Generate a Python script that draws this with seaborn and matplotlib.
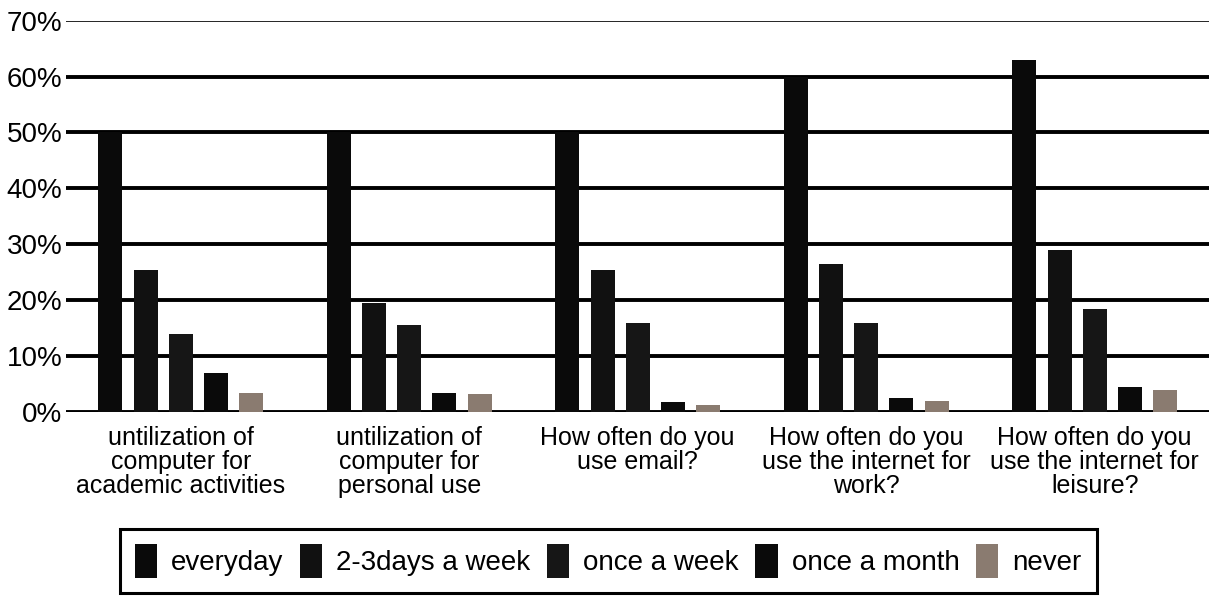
import pandas as pd
import matplotlib.pyplot as plt
import seaborn as sns

# values (percent)
questions = [
    "untilization of\ncomputer for\nacademic activities",
    "untilization of\ncomputer for\npersonal use",
    "How often do you\nuse email?",
    "How often do you\nuse the internet for\nwork?",
    "How often do you\nuse the internet for\nleisure?",
]
frequencies = ["everyday", "2-3days a week", "once a week", "once a month", "never"]
everyday = [50, 50, 50, 60, 63]
days_2_3 = [25.5, 19.5, 25.5, 26.5, 29]
once_week = [14, 15.5, 16, 16, 18.5]
once_month = [7, 3.5, 1.8, 2.5, 4.5]
never = [3.5, 3.3, 1.2, 2, 4]
yticks = [0, 10, 20, 30, 40, 50, 60, 70]

series = [everyday, days_2_3, once_week, once_month, never]
rows = []
for freq, vals in zip(frequencies, series):
    for q, v in zip(questions, vals):
        rows.append({"question": q, "frequency": freq, "pct": v})
df = pd.DataFrame(rows)

sns.set_theme(style="white")
plt.rcParams['font.family'] = ['Liberation Sans', 'DejaVu Sans']
plt.rcParams['text.color'] = 'black'
plt.rcParams['xtick.color'] = 'black'
plt.rcParams['ytick.color'] = 'black'

fig = plt.figure(figsize=(12.09, 6.07), dpi=100)
ax = fig.add_axes([0.055, 0.321, 0.945, 0.645])

palette = {"everyday": "#0a0a0a", "2-3days a week": "#111111", "once a week": "#161616",
           "once a month": "#0a0a0a", "never": "#8a7b70"}
sns.barplot(data=df, x="question", y="pct", hue="frequency", hue_order=frequencies,
            palette=palette, width=0.77, saturation=1, linewidth=0, ax=ax, zorder=3)

# narrow the bars so there are gaps between them
for p in ax.patches:
    w = p.get_width()
    if w > 0:
        p.set_x(p.get_x() + w * 0.16)
        p.set_width(w * 0.68)

ax.set_ylim(0, 70)
ax.set_xlim(-0.5, 4.5)
ax.set_yticks(yticks)
ax.set_yticklabels([f"{t}%" for t in yticks], fontsize=20)
for t in yticks:
    ax.axhline(t, color="black", lw=2.8 if t < 70 else 1.2, zorder=1)
for s in ax.spines.values():
    s.set_visible(False)
ax.tick_params(axis="y", length=0, pad=3)
ax.tick_params(axis="x", length=0, pad=10)
plt.setp(ax.get_xticklabels(), fontsize=18, ha="center", linespacing=1.0)
ax.set_xlabel("")
ax.set_ylabel("")

handles, labels = ax.get_legend_handles_labels()
ax.get_legend().remove()
leg = fig.legend(handles, labels, loc="lower center", bbox_to_anchor=(0.503, 0.0), ncol=5,
                 fontsize=20, frameon=True, fancybox=False, framealpha=1,
                 handlelength=0.8, handleheight=1.5, handletextpad=0.5, columnspacing=0.6,
                 borderpad=0.55)
leg.get_frame().set_edgecolor("black")
leg.get_frame().set_linewidth(2.2)

fig.savefig("out.png", dpi=100)
